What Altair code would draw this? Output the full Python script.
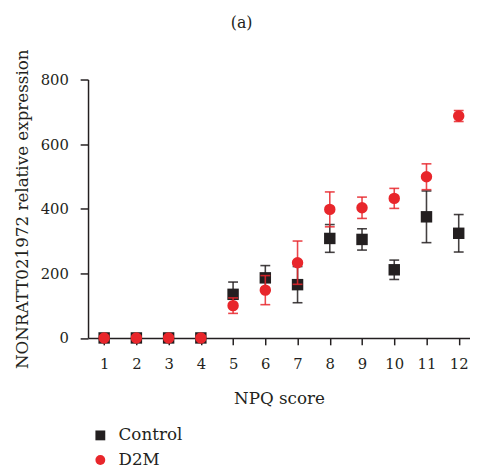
import altair as alt
import pandas as pd

scores = list(range(1, 13))
control_mean = [0, 0, 0, 0, 135, 186, 165, 308, 305, 211, 375, 324]
control_err = [0, 0, 0, 0, 38, 38, 56, 43, 33, 30, 80, 58]
d2m_mean = [0, 0, 0, 0, 100, 148, 233, 398, 403, 432, 499, 687]
d2m_err = [0, 0, 0, 0, 24, 45, 67, 54, 33, 31, 40, 17]
groups = ["Control", "D2M"]
colors = ["#231f20", "#e8262b"]
shapes = ["square", "circle"]

rows = []
for g, means, errs in [("Control", control_mean, control_err), ("D2M", d2m_mean, d2m_err)]:
    for s, m, e in zip(scores, means, errs):
        rows.append({"score": s, "group": g, "mean": m, "err": e,
                     "lo": m - e, "hi": m + e})
df = pd.DataFrame(rows)

FONT = "DejaVu Serif"

xscale = alt.Scale(domain=[0.5, 12.35], nice=False, zero=False)
yscale = alt.Scale(domain=[0, 800], nice=False)

xaxis = alt.Axis(values=scores, title="NPQ score", grid=False, tickSize=7,
                 labelPadding=12, titlePadding=20, labelFontSize=15,
                 titleFontSize=17, labelFont=FONT, titleFont=FONT,
                 titleFontWeight="normal", domainColor="#231f20",
                 tickColor="#231f20", labelColor="#231f20", titleColor="#231f20",
                 domainWidth=1.5, tickWidth=1.5, labelFlush=False)
yaxis = alt.Axis(values=[0, 200, 400, 600, 800],
                 title="NONRATT021972 relative expression", grid=False,
                 tickSize=8, labelPadding=12, titlePadding=9, labelFontSize=15,
                 titleFontSize=17, labelFont=FONT, titleFont=FONT,
                 titleFontWeight="normal", domainColor="#231f20",
                 tickColor="#231f20", labelColor="#231f20", titleColor="#231f20",
                 domainWidth=1.5, tickWidth=1.5)

color_scale = alt.Scale(domain=groups, range=colors)
shape_scale = alt.Scale(domain=groups, range=shapes)
legend = alt.Legend(title=None, orient="none", legendX=4, legendY=353,
                    direction="vertical", labelFont=FONT, labelFontSize=17,
                    labelColor="#231f20", symbolSize=100, labelOffset=10,
                    rowPadding=7, padding=0, symbolStrokeWidth=0)

base = alt.Chart(df)

layers = []
for g, col in zip(groups, colors):
    sub = base.transform_filter(alt.datum.group == g)
    err = sub.transform_filter(alt.datum.err > 0)
    bars = err.mark_rule(strokeWidth=1.6, opacity=0.85, color=col).encode(
        x=alt.X("score:Q", scale=xscale, axis=xaxis),
        y=alt.Y("lo:Q", scale=yscale, axis=yaxis),
        y2="hi:Q",
    )
    cap_hi = err.mark_rule(strokeWidth=1.6, opacity=0.85, color=col,
                           xOffset=-5, x2Offset=5).encode(
        x=alt.X("score:Q", scale=xscale, axis=xaxis),
        x2="score:Q",
        y=alt.Y("hi:Q", scale=yscale, axis=yaxis),
    )
    cap_lo = err.mark_rule(strokeWidth=1.6, opacity=0.85, color=col,
                           xOffset=-5, x2Offset=5).encode(
        x=alt.X("score:Q", scale=xscale, axis=xaxis),
        x2="score:Q",
        y=alt.Y("lo:Q", scale=yscale, axis=yaxis),
    )
    pts = sub.mark_point(filled=True, opacity=1, size=135).encode(
        x=alt.X("score:Q", scale=xscale, axis=xaxis),
        y=alt.Y("mean:Q", scale=yscale, axis=yaxis),
        color=alt.Color("group:N", scale=color_scale, legend=legend),
        shape=alt.Shape("group:N", scale=shape_scale, legend=legend),
    )
    layers += [bars, cap_hi, cap_lo, pts]

chart = alt.layer(*layers).properties(
    width=388,
    height=262.5,
    title=alt.TitleParams(text="(a)", anchor="middle", frame="group", dx=-38,
                          offset=2, baseline="bottom", font=FONT, fontSize=16,
                          fontWeight="normal", color="#231f20"),
    autosize=alt.AutoSizeParams(type="none"),
    padding={"left": 81.3, "top": 69, "right": 0, "bottom": 131},
).configure_view(stroke=None)

chart.save("out.html", embed_options={"renderer": "svg", "actions": False})
